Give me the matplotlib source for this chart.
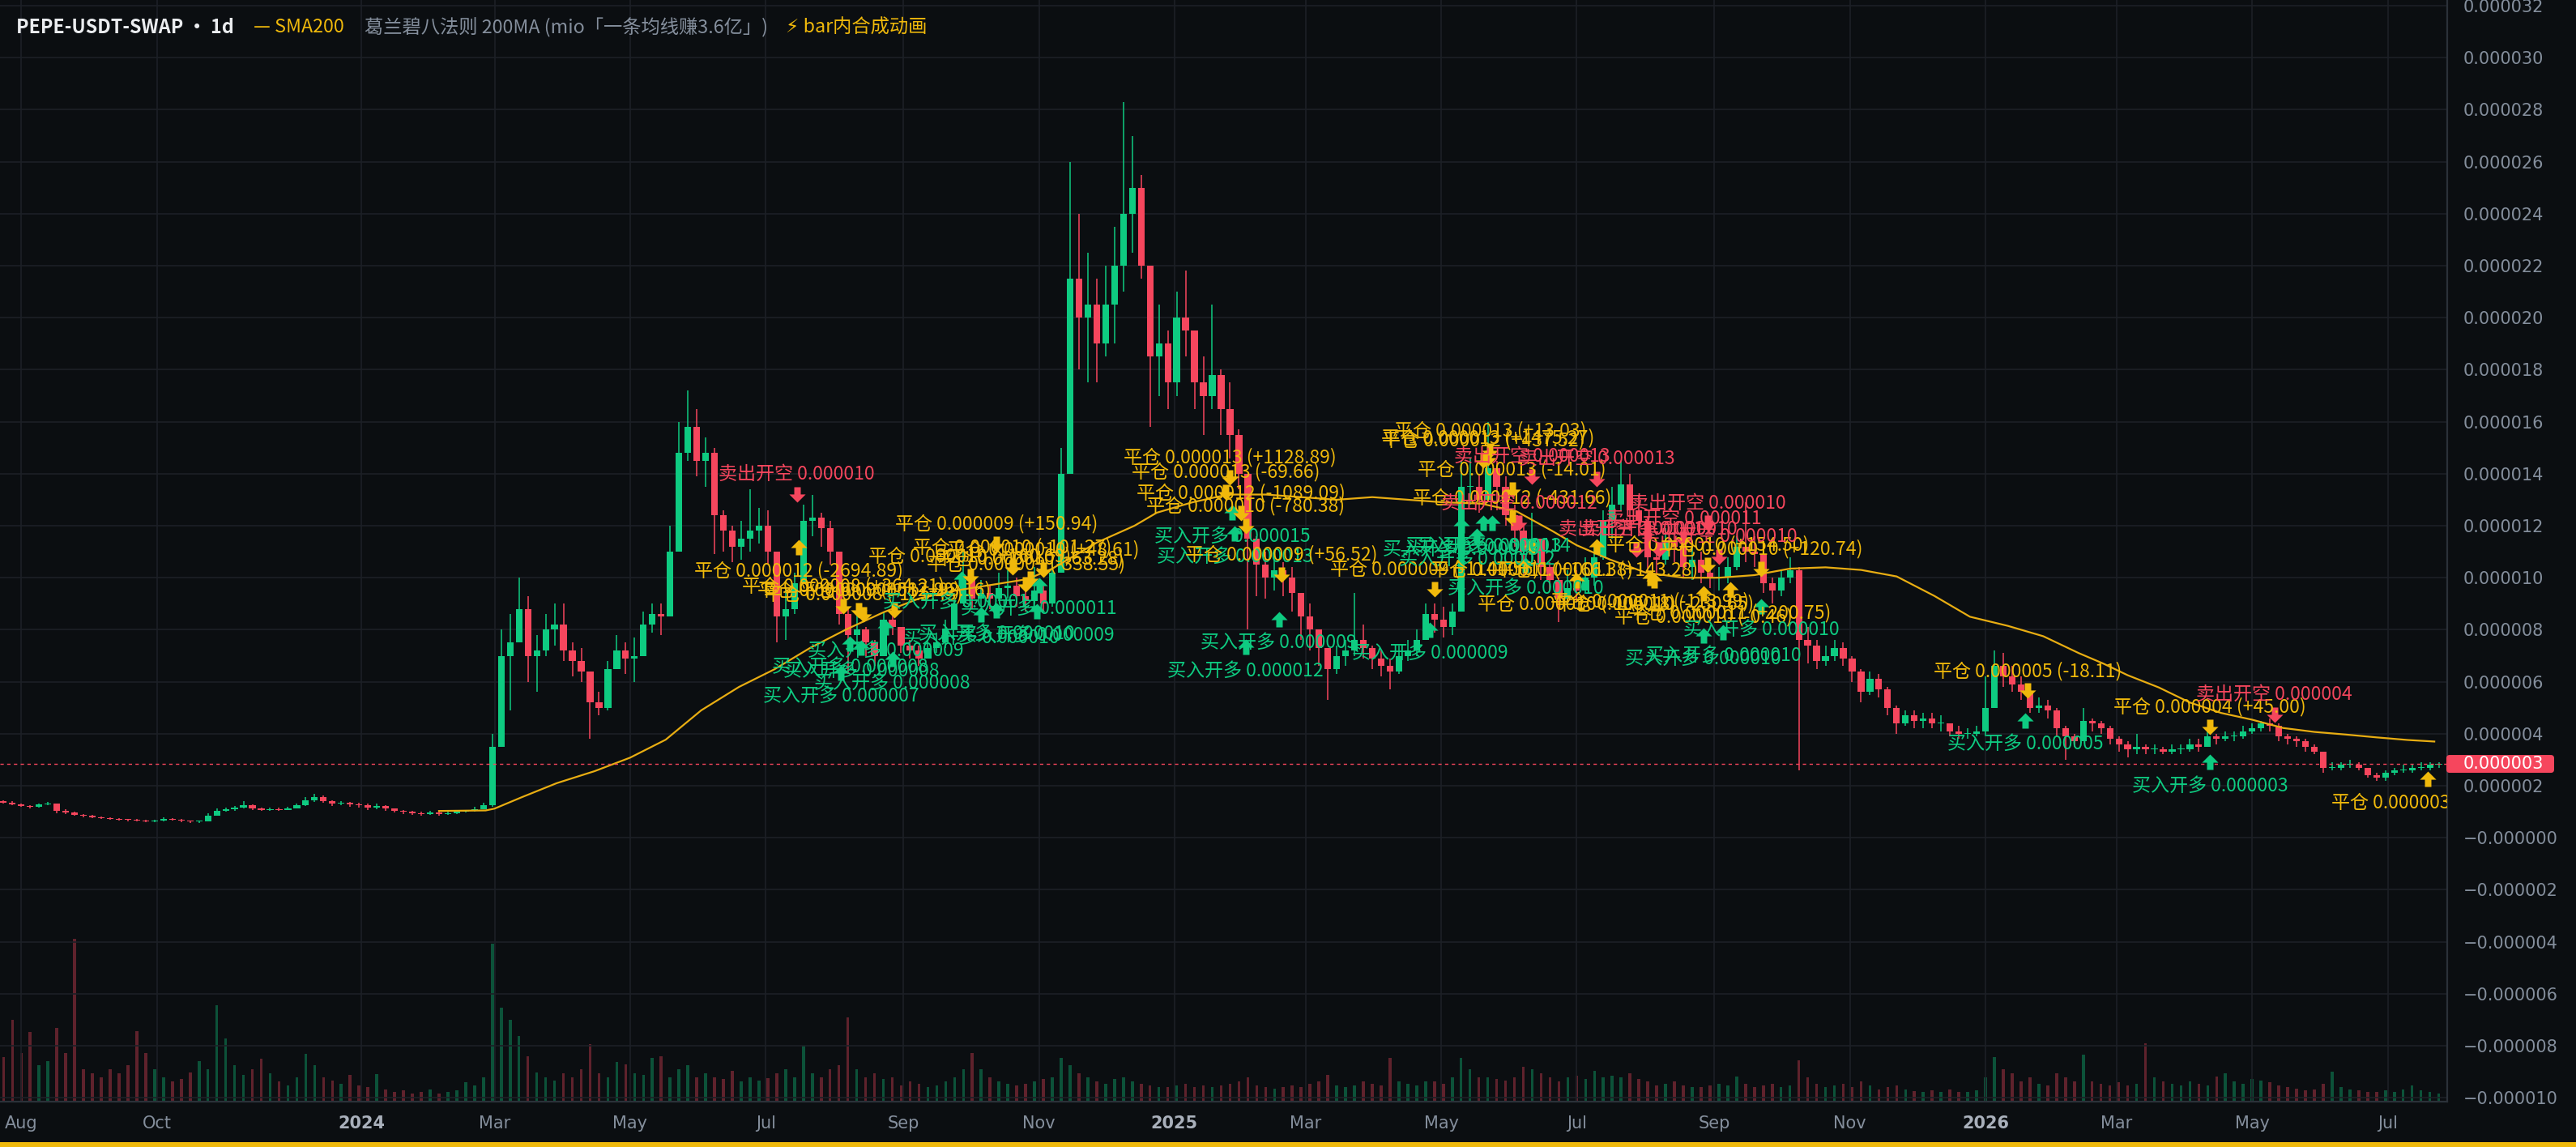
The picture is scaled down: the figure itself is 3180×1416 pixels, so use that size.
import matplotlib
matplotlib.use('Agg')
import matplotlib.pyplot as plt
import matplotlib.dates as mdates
from matplotlib.path import Path
from matplotlib.patches import Rectangle, FancyBboxPatch
from matplotlib.transforms import offset_copy, IdentityTransform
import numpy as np
import pandas as pd

BG = '#0b0e11'
GRID = '#1c2026'
SPINE = '#2b3139'
GREEN = '#0ecb81'
RED = '#f6465d'
YELLOW = '#f0b90b'
SMA_COLOR = '#e8ad12'
GRAY = '#848e9c'
WHITE = '#eaecef'

plt.rcParams['font.family'] = ['Noto Sans CJK SC', 'DejaVu Sans']

# ---- data: 4-day candles of PEPE-USDT-SWAP, prices in 1e-6 USDT ----
start_date = '2023-07-24'
first_open = 1.40
close = [
    1.36, 1.28, 1.22, 1.19, 1.28, 1.30, 1.05, 0.98, 0.88, 0.85,
    0.80, 0.76, 0.72, 0.70, 0.68, 0.66, 0.64, 0.66, 0.72, 0.70,
    0.65, 0.62, 0.63, 0.86, 1.05, 1.10, 1.15, 1.25, 1.12, 1.08,
    1.10, 1.08, 1.14, 1.25, 1.45, 1.55, 1.40, 1.30, 1.35, 1.28,
    1.25, 1.15, 1.22, 1.12, 1.05, 1.00, 0.95, 0.92, 0.98, 0.90,
    0.95, 1.00, 1.02, 1.10, 1.25, 3.50, 7.00, 7.50, 8.80, 7.00,
    7.20, 8.00, 8.20, 7.20, 6.80, 6.40, 5.20, 5.00, 6.50, 7.20,
    6.90, 7.00, 8.20, 8.60, 8.50, 11.0, 14.8, 15.8, 14.5, 14.8,
    12.4, 11.8, 11.2, 11.5, 11.8, 12.0, 11.0, 8.50, 8.80, 9.80,
    12.2, 12.3, 11.9, 11.0, 8.60, 7.80, 8.00, 7.50, 7.00, 8.40,
    8.10, 7.40, 7.20, 6.90, 7.30, 7.50, 8.00, 9.00, 9.90, 9.20,
    9.40, 9.20, 9.60, 9.70, 9.30, 9.10, 9.50, 9.00, 10.2, 14.0,
    21.5, 20.0, 20.5, 19.0, 20.5, 22.0, 24.0, 25.0, 22.0, 18.5,
    19.0, 17.5, 20.0, 19.5, 17.5, 17.0, 17.8, 16.5, 15.5, 14.0,
    11.5, 10.5, 10.0, 10.3, 10.0, 9.40, 8.50, 8.00, 7.30, 6.50,
    7.00, 7.20, 7.60, 7.30, 6.90, 6.60, 6.40, 7.00, 7.20, 7.60,
    8.60, 8.40, 8.10, 8.70, 13.5, 13.5, 13.0, 14.2, 13.5, 12.4,
    11.8, 11.0, 11.5, 10.4, 9.90, 9.20, 9.60, 9.50, 10.0, 10.8,
    12.2, 12.8, 13.6, 12.6, 12.2, 10.8, 10.7, 11.4, 11.2, 10.4,
    10.7, 10.2, 10.0, 10.0, 10.4, 11.2, 11.0, 10.9, 9.80, 9.50,
    10.0, 10.3, 7.60, 7.40, 6.80, 7.00, 7.30, 6.90, 6.40, 5.60,
    6.10, 5.70, 5.00, 4.40, 4.70, 4.50, 4.60, 4.40, 4.40, 4.10,
    4.00, 4.00, 4.10, 5.00, 6.60, 6.20, 5.90, 5.60, 5.00, 5.10,
    4.90, 4.20, 3.90, 3.70, 4.50, 4.40, 4.20, 3.80, 3.60, 3.40,
    3.50, 3.40, 3.40, 3.30, 3.40, 3.40, 3.60, 3.50, 3.90, 3.80,
    3.90, 3.90, 4.10, 4.20, 4.40, 4.30, 3.90, 3.80, 3.70, 3.50,
    3.30, 2.70, 2.70, 2.80, 2.80, 2.70, 2.40, 2.30, 2.50, 2.60,
    2.60, 2.70, 2.70, 2.80, 2.85,
]
high = [
    1.45, 1.40, 1.30, 1.26, 1.33, 1.38, 1.32, 1.10, 1.00, 0.92,
    0.88, 0.82, 0.78, 0.75, 0.72, 0.71, 0.69, 0.70, 0.78, 0.76,
    0.72, 0.67, 0.66, 0.95, 1.12, 1.16, 1.22, 1.42, 1.28, 1.16,
    1.16, 1.15, 1.20, 1.32, 1.55, 1.68, 1.62, 1.45, 1.42, 1.38,
    1.35, 1.30, 1.32, 1.25, 1.14, 1.08, 1.04, 1.00, 1.02, 1.00,
    1.00, 1.05, 1.08, 1.18, 1.35, 4.00, 8.00, 8.60, 10.0, 9.30,
    7.80, 8.60, 9.00, 9.00, 7.50, 7.30, 6.40, 5.60, 6.80, 7.80,
    7.50, 7.70, 8.70, 9.00, 9.00, 12.0, 16.0, 17.2, 16.5, 15.4,
    15.0, 12.6, 12.0, 12.2, 13.4, 12.7, 12.6, 10.8, 9.60, 10.2,
    12.8, 13.2, 12.5, 12.2, 11.0, 8.80, 8.70, 8.10, 7.60, 8.70,
    8.80, 8.10, 7.60, 7.40, 7.60, 7.90, 8.40, 9.40, 11.0, 10.1,
    9.90, 9.70, 10.2, 10.3, 10.0, 9.60, 10.4, 9.70, 10.6, 15.0,
    26.0, 24.0, 22.5, 21.5, 22.0, 23.5, 28.3, 27.0, 25.5, 22.0,
    20.5, 19.5, 21.0, 21.8, 19.5, 18.5, 20.5, 18.0, 17.5, 15.7,
    13.8, 11.6, 11.0, 10.8, 10.6, 10.4, 9.20, 9.00, 7.90, 7.30,
    7.40, 7.60, 9.40, 8.20, 7.40, 7.20, 6.90, 7.40, 7.60, 8.00,
    9.00, 9.00, 8.90, 9.00, 14.5, 14.6, 14.0, 16.0, 14.5, 13.9,
    12.8, 12.0, 12.5, 11.3, 10.6, 10.0, 10.3, 10.3, 10.8, 11.2,
    12.6, 13.5, 14.5, 14.0, 13.2, 12.3, 11.3, 11.9, 12.2, 11.3,
    11.3, 11.0, 10.6, 10.4, 10.8, 11.6, 12.9, 11.6, 11.0, 10.0,
    10.3, 10.8, 10.4, 8.10, 7.60, 7.40, 7.60, 7.50, 7.00, 6.50,
    6.40, 6.30, 5.80, 5.10, 4.90, 4.90, 4.80, 4.80, 4.70, 4.40,
    4.30, 4.20, 4.30, 6.20, 7.20, 7.10, 6.60, 6.20, 5.70, 5.40,
    5.30, 5.00, 4.30, 4.00, 5.00, 4.60, 4.50, 4.30, 3.90, 3.70,
    4.00, 3.60, 3.60, 3.50, 3.60, 3.60, 3.80, 3.80, 4.20, 4.00,
    4.10, 4.10, 4.30, 4.40, 4.50, 4.60, 4.40, 4.00, 3.90, 3.80,
    3.60, 3.30, 2.90, 2.90, 3.00, 2.90, 2.70, 2.50, 2.60, 2.70,
    2.80, 2.80, 2.90, 2.90, 2.90,
]
low = [
    1.30, 1.24, 1.18, 1.12, 1.16, 1.24, 0.95, 0.90, 0.84, 0.80,
    0.76, 0.72, 0.69, 0.66, 0.64, 0.62, 0.60, 0.61, 0.64, 0.66,
    0.61, 0.58, 0.58, 0.62, 0.84, 1.00, 1.05, 1.12, 1.06, 1.02,
    1.04, 1.02, 1.06, 1.12, 1.22, 1.38, 1.34, 1.22, 1.25, 1.20,
    1.15, 1.06, 1.10, 1.04, 0.98, 0.92, 0.88, 0.86, 0.89, 0.85,
    0.88, 0.92, 0.96, 1.00, 1.10, 1.20, 3.50, 4.90, 7.80, 6.00,
    5.60, 7.00, 7.40, 6.80, 6.20, 6.00, 3.80, 4.70, 4.90, 6.60,
    6.30, 6.00, 7.20, 7.90, 7.80, 8.90, 12.5, 14.5, 13.9, 13.5,
    10.9, 11.0, 10.6, 10.7, 11.0, 11.3, 10.5, 7.50, 7.60, 8.60,
    10.5, 11.6, 11.2, 10.5, 8.20, 6.30, 7.30, 7.00, 6.60, 7.00,
    7.80, 7.10, 6.90, 6.60, 6.90, 7.10, 7.30, 8.00, 9.00, 8.80,
    8.90, 8.80, 9.10, 9.20, 8.90, 8.70, 9.00, 8.70, 8.90, 10.2,
    14.0, 18.0, 17.5, 17.5, 18.5, 19.0, 21.0, 22.5, 21.5, 15.8,
    17.0, 16.5, 17.0, 18.5, 16.5, 15.5, 16.5, 15.5, 14.6, 13.4,
    8.00, 9.30, 9.20, 9.50, 9.30, 8.70, 7.60, 7.20, 6.60, 5.30,
    6.30, 6.60, 7.00, 6.90, 6.50, 6.20, 5.70, 6.30, 6.80, 7.00,
    7.60, 7.90, 7.70, 7.80, 9.00, 12.8, 12.5, 12.9, 12.6, 12.0,
    11.2, 10.0, 10.5, 9.90, 9.50, 8.30, 9.00, 9.10, 9.40, 9.70,
    10.7, 11.5, 12.6, 11.8, 11.6, 10.2, 10.1, 10.5, 10.6, 10.0,
    9.90, 9.80, 9.60, 9.50, 9.80, 10.3, 10.6, 10.4, 9.40, 9.00,
    9.30, 9.80, 2.60, 6.70, 6.50, 6.60, 6.80, 6.60, 6.00, 5.20,
    5.50, 5.40, 4.70, 4.00, 4.30, 4.20, 4.20, 4.20, 4.10, 3.90,
    3.80, 3.80, 3.90, 3.90, 5.00, 5.80, 5.60, 5.30, 4.80, 4.80,
    4.60, 3.90, 3.00, 3.50, 3.70, 4.10, 4.00, 3.60, 3.30, 3.10,
    3.20, 3.20, 3.20, 3.20, 3.20, 3.20, 3.30, 3.30, 3.50, 3.60,
    3.70, 3.70, 3.80, 4.00, 4.10, 4.10, 3.70, 3.60, 3.50, 3.30,
    3.20, 2.50, 2.60, 2.60, 2.70, 2.60, 2.30, 2.20, 2.20, 2.40,
    2.50, 2.50, 2.60, 2.60, 2.70,
]
volume = [
    55, 100, 60, 85, 45, 50, 90, 60, 200, 40,
    35, 30, 40, 35, 45, 86, 60, 40, 30, 25,
    28, 36, 50, 40, 118, 77, 45, 33, 40, 53,
    35, 25, 20, 30, 59, 45, 30, 26, 22, 33,
    20, 18, 34, 15, 12, 14, 10, 12, 15, 10,
    12, 14, 24, 20, 30, 194, 115, 100, 80, 56,
    36, 30, 26, 35, 30, 40, 70, 35, 30, 49,
    46, 35, 33, 54, 56, 30, 40, 45, 30, 35,
    30, 28, 38, 25, 30, 26, 29, 35, 40, 30,
    68, 35, 30, 40, 45, 103, 40, 30, 35, 28,
    30, 20, 25, 22, 18, 20, 25, 30, 40, 60,
    40, 30, 25, 22, 20, 22, 25, 28, 30, 54,
    45, 35, 30, 25, 22, 28, 30, 25, 22, 20,
    18, 18, 20, 22, 18, 20, 18, 20, 22, 25,
    30, 20, 18, 16, 18, 20, 18, 22, 25, 33,
    20, 18, 20, 25, 22, 20, 54, 25, 22, 20,
    25, 25, 22, 30, 54, 40, 30, 30, 28, 26,
    30, 43, 40, 35, 30, 25, 30, 32, 28, 38,
    30, 32, 30, 35, 28, 25, 20, 22, 25, 20,
    18, 18, 20, 22, 20, 31, 22, 18, 20, 22,
    18, 20, 51, 30, 22, 18, 20, 22, 18, 25,
    20, 15, 18, 20, 15, 13, 12, 14, 12, 15,
    12, 12, 14, 30, 55, 40, 35, 25, 30, 22,
    20, 35, 30, 25, 58, 25, 22, 20, 24, 20,
    22, 71, 30, 25, 22, 20, 25, 22, 20, 31,
    35, 25, 22, 28, 26, 24, 20, 18, 16, 14,
    15, 22, 37, 18, 15, 14, 12, 12, 14, 12,
    15, 20, 14, 12, 10,
]

sma_dates = [
    '2024-02-05', '2024-02-26', '2024-03-01', '2024-03-13', '2024-03-29',
    '2024-04-15', '2024-05-01', '2024-05-17', '2024-06-02', '2024-06-19',
    '2024-07-05', '2024-07-21', '2024-08-06', '2024-08-23', '2024-09-08',
    '2024-09-24', '2024-10-11', '2024-10-27', '2024-11-07', '2024-11-27',
    '2024-12-14', '2024-12-24', '2025-01-09', '2025-01-25', '2025-02-11',
    '2025-02-27', '2025-03-15', '2025-03-31', '2025-04-16', '2025-05-02',
    '2025-05-19', '2025-06-04', '2025-06-20', '2025-07-01', '2025-07-16',
    '2025-08-01', '2025-08-18', '2025-09-03', '2025-09-19', '2025-10-05',
    '2025-10-21', '2025-11-06', '2025-11-22', '2025-12-09', '2025-12-25',
    '2026-01-11', '2026-01-27', '2026-02-12', '2026-02-23', '2026-03-06',
    '2026-03-20', '2026-04-03', '2026-04-17', '2026-05-01', '2026-05-15',
    '2026-05-29', '2026-06-12', '2026-06-26', '2026-07-10', '2026-07-22',
]
sma_values = [
    1.03, 1.05, 1.12, 1.55, 2.10,
    2.56, 3.08, 3.77, 4.90, 5.80,
    6.48, 7.30, 8.00, 8.67, 9.20,
    9.50, 9.73, 9.95, 10.35, 11.35,
    12.0, 12.5, 12.9, 13.2, 13.2,
    13.1, 13.0, 13.1, 13.0, 12.9,
    12.85, 12.55, 11.8, 11.25, 10.7,
    10.2, 10.0, 10.0, 10.1, 10.35,
    10.4, 10.3, 10.05, 9.30, 8.50,
    8.15, 7.75, 7.10, 6.70, 6.25,
    5.78, 5.20, 4.80, 4.54, 4.22,
    4.07, 3.97, 3.86, 3.76, 3.70,
]

# (date, kind, bar price at arrow tip, label)
signals = [
    ('2024-07-15', 'short', 12.9, '卖出开空 0.000010'),
    ('2024-07-16', 'exit_short', 11.46, '平仓 0.000012 (-2694.89)'),
    ('2024-08-04', 'long', 6.64, '买入开多 0.000007'),
    ('2024-08-05', 'exit_long', 8.6, '平仓 0.000008 (+364.21)'),
    ('2024-08-08', 'long', 7.77, '买入开多 0.000008'),
    ('2024-08-12', 'exit_long', 8.44, '平仓 0.000009 (+512.80)'),
    ('2024-08-13', 'long', 7.61, '买入开多 0.000008'),
    ('2024-08-14', 'exit_long', 8.3, '平仓 0.000008 (-125.43)'),
    ('2024-08-24', 'long', 8.4, '买入开多 0.000009'),
    ('2024-08-27', 'long', 7.16, '买入开多 0.000008'),
    ('2024-08-28', 'exit_long', 8.44, '平仓 0.000008 (+98.16)'),
    ('2024-09-27', 'long', 10.25, '买入开多 0.000011'),
    ('2024-10-01', 'exit_long', 9.75, '平仓 0.000010 (+160.69)'),
    ('2024-10-06', 'long', 8.9, '买入开多 0.000010'),
    ('2024-10-13', 'exit_long', 11.0, '平仓 0.000009 (+150.94)'),
    ('2024-10-13', 'long', 9.05, '买入开多 0.000010'),
    ('2024-10-20', 'exit_long', 10.1, '平仓 0.000010 (-101.27)'),
    ('2024-10-26', 'exit_long', 9.44, '平仓 0.000009 (-338.55)'),
    ('2024-10-28', 'exit_long', 9.65, '平仓 0.000010 (-63.28)'),
    ('2024-10-31', 'long', 9.0, '买入开多 0.000009'),
    ('2024-11-01', 'long', 10.0, '买入开多 0.000011'),
    ('2024-11-03', 'exit_long', 10.0, '平仓 0.000010 (+48.61)'),
    ('2025-01-24', 'exit_long', 13.0, '平仓 0.000013 (-69.66)'),
    ('2025-01-26', 'exit_long', 13.55, '平仓 0.000013 (+1128.89)'),
    ('2025-01-27', 'long', 12.8, '买入开多 0.000015'),
    ('2025-01-28', 'long', 12.0, '买入开多 0.000013'),
    ('2025-01-31', 'exit_long', 12.2, '平仓 0.000012 (-1089.09)'),
    ('2025-02-02', 'exit_long', 11.7, '平仓 0.000010 (-780.38)'),
    ('2025-02-02', 'long', 7.63, '买入开多 0.000012'),
    ('2025-02-17', 'long', 8.69, '买入开多 0.000009'),
    ('2025-02-18', 'exit_long', 9.83, '平仓 0.000009 (+56.52)'),
    ('2025-04-26', 'long', 8.3, '买入开多 0.000009'),
    ('2025-04-28', 'exit_long', 9.25, '平仓 0.000009 (-1141.56)'),
    ('2025-05-10', 'long', 12.3, '买入开多 0.000013'),
    ('2025-05-17', 'long', 11.9, '买入开多 0.000012'),
    ('2025-05-20', 'long', 12.4, '买入开多 0.000013'),
    ('2025-05-20', 'exit_long', 14.2, '平仓 0.000012 (+437.52)'),
    ('2025-05-22', 'exit_long', 14.3, '平仓 0.000013 (+1475.27)'),
    ('2025-05-23', 'exit_long', 14.6, '平仓 0.000013 (+13.03)'),
    ('2025-05-24', 'long', 12.4, '买入开多 0.000014'),
    ('2025-06-02', 'exit_long', 13.1, '平仓 0.000013 (-14.01)'),
    ('2025-06-02', 'exit_long', 12.0, '平仓 0.000012 (-431.66)'),
    ('2025-06-05', 'short', 11.8, '卖出开空 0.000012'),
    ('2025-06-08', 'long', 10.8, '买入开多 0.000010'),
    ('2025-06-11', 'short', 13.6, '卖出开空 0.000013'),
    ('2025-06-11', 'exit_short', 11.5, '平仓 0.000011 (+166.38)'),
    ('2025-07-01', 'exit_short', 10.2, '平仓 0.000010 (-105.18)'),
    ('2025-07-10', 'short', 13.5, '卖出开空 0.000013'),
    ('2025-07-10', 'exit_short', 11.5, '平仓 0.000011 (+143.28)'),
    ('2025-07-28', 'short', 10.8, '卖出开空 0.000012'),
    ('2025-08-03', 'exit_short', 10.3, '平仓 0.000011 (-113.99)'),
    ('2025-08-05', 'exit_short', 10.2, '平仓 0.000010 (-230.65)'),
    ('2025-08-07', 'short', 10.8, '卖出开空 0.000010'),
    ('2025-08-18', 'short', 11.2, '卖出开空 0.000011'),
    ('2025-08-27', 'exit_short', 9.7, '平仓 0.000010 (-0.46)'),
    ('2025-08-27', 'long', 8.07, '买入开多 0.000010'),
    ('2025-08-29', 'short', 11.8, '卖出开空 0.000010'),
    ('2025-08-29', 'exit_long', 10.2, '平仓 0.000010 (+154.50)'),
    ('2025-09-03', 'short', 10.5, '卖出开空 0.000010'),
    ('2025-09-05', 'long', 8.2, '买入开多 0.000010'),
    ('2025-09-08', 'exit_short', 9.85, '平仓 0.000011 (+200.75)'),
    ('2025-09-22', 'exit_long', 10.05, '平仓 0.000010 (+120.74)'),
    ('2025-09-22', 'long', 9.2, '买入开多 0.000010'),
    ('2026-01-19', 'long', 4.8, '买入开多 0.000005'),
    ('2026-01-20', 'exit_long', 5.35, '平仓 0.000005 (-18.11)'),
    ('2026-04-12', 'exit_long', 3.97, '平仓 0.000004 (+45.00)'),
    ('2026-04-12', 'long', 3.2, '买入开多 0.000003'),
    ('2026-05-11', 'short', 4.43, '卖出开空 0.000004'),
    ('2026-07-19', 'exit_short', 2.56, '平仓 0.000003 (+16.87)'),
]

tick_dates = ['2023-08-01', '2023-10-01', '2024-01-01', '2024-03-01', '2024-05-01',
              '2024-07-01', '2024-09-01', '2024-11-01', '2025-01-01', '2025-03-01',
              '2025-05-01', '2025-07-01', '2025-09-01', '2025-11-01', '2026-01-01',
              '2026-03-01', '2026-05-01', '2026-07-01']
tick_labels = ['Aug', 'Oct', '2024', 'Mar', 'May', 'Jul', 'Sep', 'Nov', '2025', 'Mar',
               'May', 'Jul', 'Sep', 'Nov', '2026', 'Mar', 'May', 'Jul']
price_ticks = list(range(-10, 33, 2))
last_price = 2.84
last_price_text = '0.000003'


def price_label(v):
    if v <= 0:
        return '\u2212' + f'{abs(v) * 1e-6:.6f}'
    return f'{v * 1e-6:.6f}'


W, H, DPI = 3180, 1416, 200
fig = plt.figure(figsize=(W / DPI, H / DPI), dpi=DPI, facecolor=BG)
pos = [0, 56 / H, 3021 / W, 1360 / H]

dates = pd.date_range(start_date, periods=len(close), freq='4D')
x = mdates.date2num(dates)
c = np.array(close)
o = np.r_[first_open, c[:-1]]
hi = np.maximum(np.array(high), np.maximum(o, c))
lo = np.minimum(np.array(low), np.minimum(o, c))
colors = np.where(c >= o, GREEN, RED)

xmin = mdates.date2num(pd.Timestamp('2023-07-22 10:00'))
xmax = mdates.date2num(pd.Timestamp('2026-07-27 19:00'))

# volume pane, sits behind the price axes
vax = fig.add_axes(pos)
vax.set_facecolor(BG)
vax.bar(x, volume, width=1.3, color=colors, alpha=0.36, lw=0)
vax.set_xlim(xmin, xmax)
vax.set_ylim(0, max(volume) * 6.75)
vax.axis('off')

ax = fig.add_axes(pos)
ax.set_facecolor('none')
ax.set_axisbelow(True)
ax.grid(True, color=GRID, lw=0.6)

ax.vlines(x, lo, hi, colors=colors, lw=0.55, zorder=2)
ax.bar(x, np.maximum(np.abs(c - o), 0.03), bottom=np.minimum(o, c), width=3.0,
       color=colors, lw=0, zorder=3)

ax.plot(mdates.date2num(pd.to_datetime(sma_dates)), sma_values, color=SMA_COLOR, lw=0.8, zorder=4)
ax.axhline(last_price, color=RED, lw=0.5, ls=(0, (3, 3)), zorder=4)

# signal arrows + labels
down_arrow = Path([(0, 0), (0.53, 0.53), (0.21, 0.53), (0.21, 1.0), (-0.21, 1.0),
                   (-0.21, 0.53), (-0.53, 0.53), (0, 0)], closed=True)
up_arrow = Path([(0, 0), (0.53, -0.53), (0.21, -0.53), (0.21, -1.0), (-0.21, -1.0),
                 (-0.21, -0.53), (-0.53, -0.53), (0, 0)], closed=True)
styles = {
    'short': (RED, down_arrow, 12.4),
    'exit_long': (YELLOW, down_arrow, 12.4),
    'long': (GREEN, up_arrow, -13.9),
    'exit_short': (YELLOW, up_arrow, -13.9),
}
for d, kind, p, label in signals:
    color, marker, dy = styles[kind]
    xd = mdates.date2num(pd.Timestamp(d))
    ax.plot([xd], [p], marker=marker, ms=13.7, color=color, mew=0, ls='none', zorder=6)
    trans = offset_copy(ax.transData, fig=fig, x=0, y=dy, units='points')
    ax.text(xd, p, label, transform=trans, ha='center', va='center', fontsize=8.3,
            color=color, zorder=7, clip_on=True)

ax.set_xlim(xmin, xmax)
ax.set_ylim(-10.15, 32.22)

ax.yaxis.tick_right()
ax.set_yticks(price_ticks)
ax.set_yticklabels([price_label(v) for v in price_ticks], family='DejaVu Sans')
ax.tick_params(axis='y', length=0, pad=7.2, labelsize=7.5, labelcolor=GRAY)

ax.set_xticks(mdates.date2num(pd.to_datetime(tick_dates)))
ax.set_xticklabels(tick_labels, family='DejaVu Sans')
ax.tick_params(axis='x', length=0, pad=6, labelsize=7.5, labelcolor=GRAY)
for t in ax.get_xticklabels():
    if t.get_text().isdigit():
        t.set_fontweight('bold')
        t.set_color('#a9b0bb')

for side in ['top', 'left']:
    ax.spines[side].set_visible(False)
for side in ['bottom', 'right']:
    ax.spines[side].set_color(SPINE)
    ax.spines[side].set_linewidth(0.8)

# current price tag on the price axis
y_last = ax.transData.transform((xmin, last_price))[1]
fig.add_artist(FancyBboxPatch((3020, y_last - 11), 133, 22,
                              boxstyle='round,pad=0,rounding_size=4',
                              transform=IdentityTransform(), color=RED, lw=0))
fig.text(3041 / W, y_last / H, last_price_text, color='white', fontsize=7.5,
         va='center', ha='left', family='DejaVu Sans')

# header line
renderer = fig.canvas.get_renderer()
header_parts = [
    ('PEPE-USDT-SWAP · 1d', WHITE, 'bold', 24),
    ('— SMA200', YELLOW, 'normal', 25),
    ('葛兰碧八法则 200MA (mio「一条均线赚3.6亿」)', GRAY, 'normal', 22),
    ('⚡ bar内合成动画', YELLOW, 'normal', 0),
]
xpos = 20
for txt, color, weight, gap in header_parts:
    t = fig.text(xpos / W, 1 - 34 / H, txt, color=color, fontsize=8.4, fontweight=weight,
                 va='center', ha='left')
    xpos = t.get_window_extent(renderer).x1 + gap

fig.add_artist(Rectangle((0, 0), 1, 6 / H, transform=fig.transFigure, color=YELLOW, lw=0))

fig.savefig('out.png', dpi=DPI, facecolor=BG)
